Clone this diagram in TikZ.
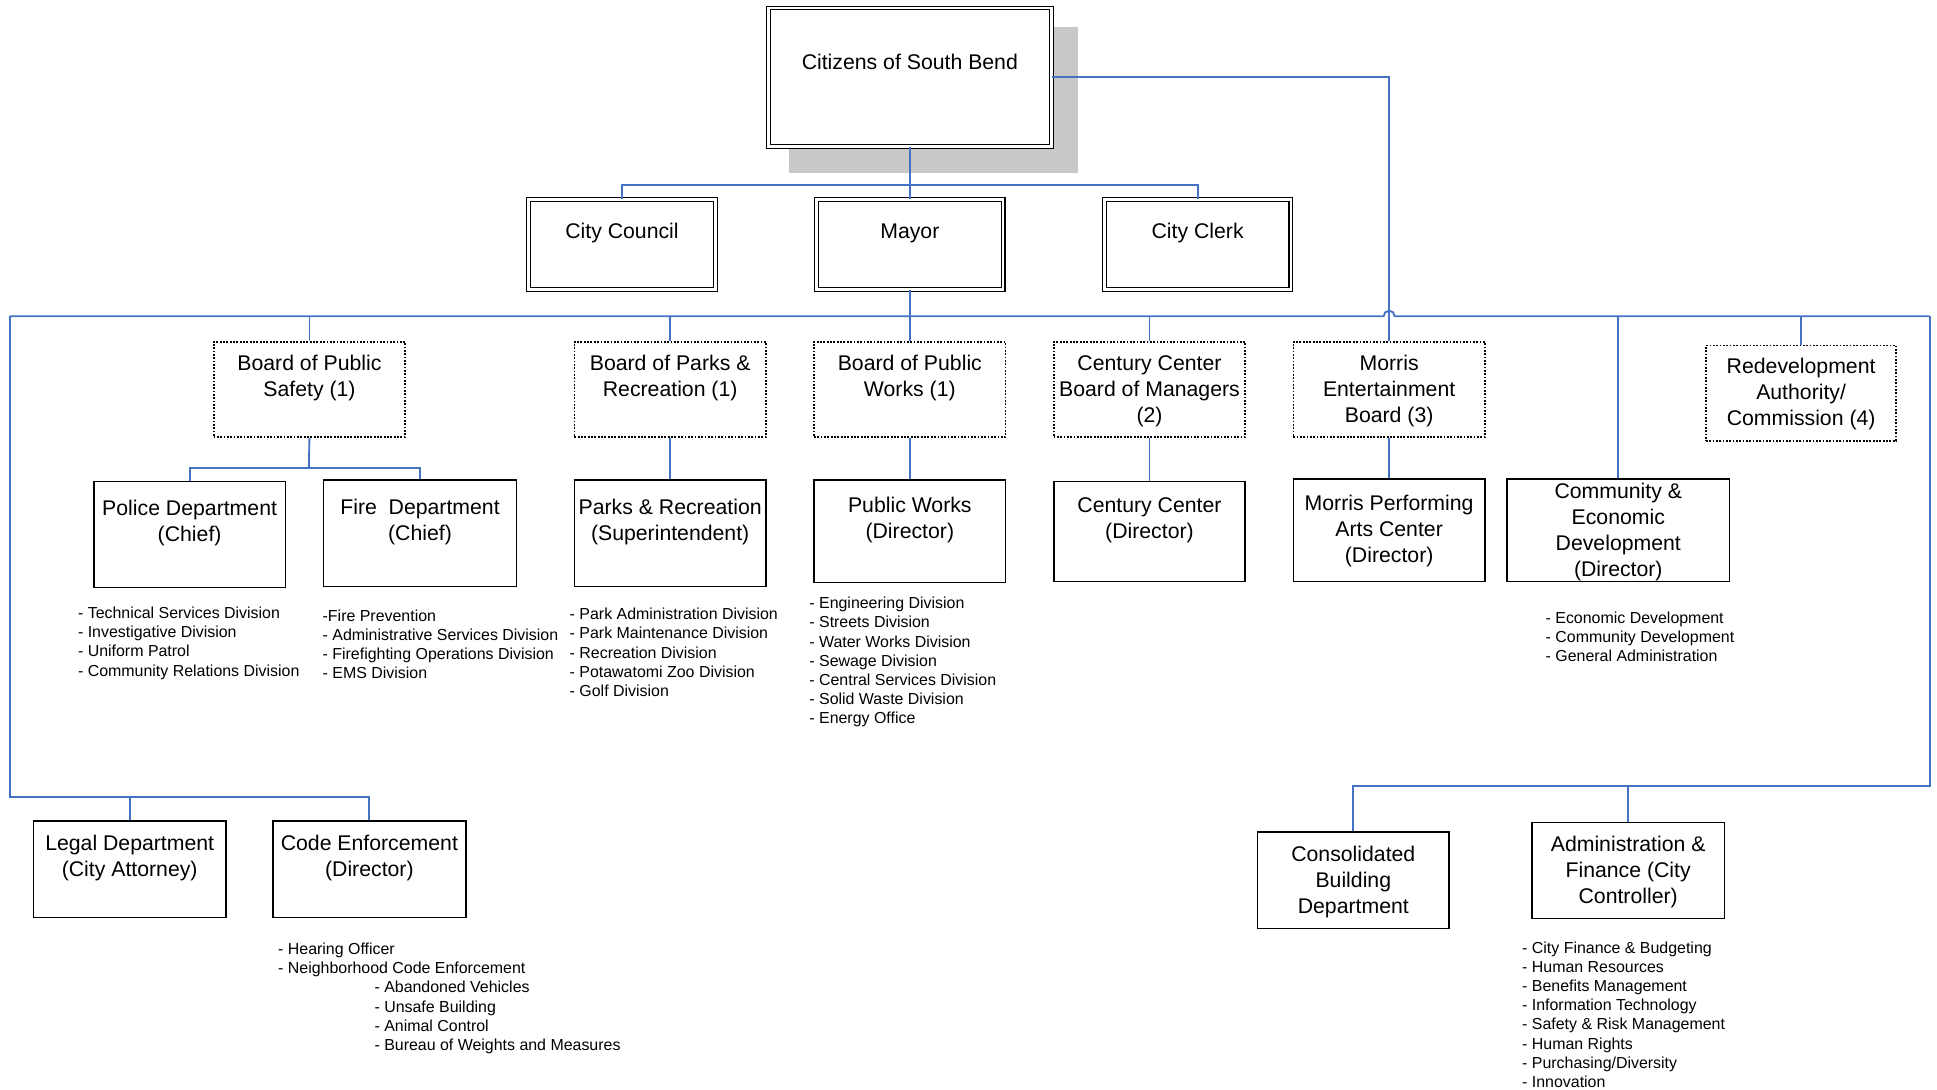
\documentclass[tikz,border=0pt]{standalone}
\usepackage{fontspec}
\setmainfont{Liberation Sans}
\usepackage{tikz}
\usetikzlibrary{positioning,calc}

\definecolor{lineblue}{RGB}{68,114,196}
\definecolor{shadowgray}{RGB}{200,200,200}

\newcommand{\boxfont}{\fontsize{17.2}{21}\selectfont}
\newcommand{\listfont}{\fontsize{12.9}{15.5}\selectfont}
% width, height, baseline of first line, text
\newcommand{\toptext}[4]{\parbox[c][#2pt][t]{#1pt}{\centering\rule{0pt}{#3pt}#4}}

\tikzset{
  link/.style={draw=lineblue, line width=1.5pt},
  dblbox/.style={draw, line width=1pt, double=white, double distance=2pt, inner sep=0pt, anchor=north, font=\boxfont},
  dotbox/.style={draw, line width=1.4pt, dash pattern=on 1.4pt off 1.3pt, inner sep=0pt, anchor=north, font=\boxfont},
  deptbox/.style={draw, line width=1.3pt, inner sep=0pt, anchor=north, font=\boxfont},
  divlist/.style={align=left, anchor=north west, inner sep=0pt, font=\listfont},
}

\begin{document}
\begin{tikzpicture}[x=1pt,y=-1pt]
    \useasboundingbox (0,0) rectangle (1568,882.3);

    % Shadow and top level
    \fill[shadowgray] (639,22) rectangle (873,140);
    \node[dblbox, fill=white] (cit) at (736.5,6) {\toptext{229}{112}{50}{Citizens of South Bend}};

    \node[dblbox] (council) at (503.5,161) {\toptext{151}{73}{31.5}{City Council}};
    \node[dblbox] (mayor)   at (736.5,161) {\toptext{151}{73}{31.5}{Mayor}};
    \node[dblbox] (clerk)   at (969.5,161) {\toptext{151}{73}{31.5}{City Clerk}};

    % Boards
    \node[dotbox] (bps) at (250.5,276)  {\toptext{155}{77}{23}{Board of Public\\Safety (1)}};
    \node[dotbox] (bpr) at (542.5,276)  {\toptext{155}{77}{23}{Board of Parks \&\\Recreation (1)}};
    \node[dotbox] (bpw) at (736.5,276)  {\toptext{155}{77}{23}{Board of Public\\Works (1)}};
    \node[dotbox] (ccb) at (930.5,276)  {\toptext{155}{77}{23}{Century Center\\Board of Managers\\(2)}};
    \node[dotbox] (meb) at (1124.5,276) {\toptext{155}{77}{23}{Morris\\Entertainment\\Board (3)}};
    \node[dotbox] (rda) at (1458,279)   {\toptext{154}{77}{23}{Redevelopment\\Authority/\\Commission (4)}};

    % Departments
    \node[deptbox] (police) at (153.5,389) {\toptext{155}{86}{28}{Police Department\\(Chief)}};
    \node[deptbox] (fire)   at (340,388)   {\toptext{156}{86}{28}{Fire\ \ Department\\(Chief)}};
    \node[deptbox] (parks)  at (542.5,388) {\toptext{155}{86}{28}{Parks \& Recreation\\(Superintendent)}};
    \node[deptbox] (pw)     at (736.5,388) {\toptext{155}{83}{26}{Public Works\\(Director)}};
    \node[deptbox] (cc)     at (930.5,389) {\toptext{155}{81}{25}{Century Center\\(Director)}};
    \node[deptbox] (mpac)   at (1124.5,387) {\toptext{155}{83}{26}{Morris Performing\\Arts Center\\(Director)}};
    \node[deptbox] (ced)    at (1310,387)  {\toptext{180}{83}{16}{Community \&\\Economic\\Development\\(Director)}};

    \node[deptbox] (legal) at (105,664)    {\toptext{156}{78}{24}{Legal Department\\(City Attorney)}};
    \node[deptbox] (code)  at (299,664)    {\toptext{156}{78}{24}{Code Enforcement\\(Director)}};
    \node[deptbox] (cbd)   at (1095.5,673) {\toptext{155}{78}{24}{Consolidated\\Building\\Department}};
    \node[deptbox] (afc)   at (1318,665)   {\toptext{156}{78}{24}{Administration \&\\Finance (City\\Controller)}};

    % Division lists
    \node[divlist] (police-l) at (63,491.2) {- Technical Services Division\\- Investigative Division\\- Uniform Patrol\\- Community Relations Division};
    \node[divlist] (fire-l) at (261,493.2) {-Fire Prevention\\- Administrative Services Division\\- Firefighting Operations Division\\- EMS Division};
    \node[divlist] (parks-l) at (461,492.2) {- Park Administration Division\\- Park Maintenance Division\\- Recreation Division\\- Potawatomi Zoo Division\\- Golf Division};
    \node[divlist] (pw-l) at (655,483.2) {- Engineering Division\\- Streets Division\\- Water Works Division\\- Sewage Division\\- Central Services Division\\- Solid Waste Division\\- Energy Office};
    \node[divlist] (ced-l) at (1251,495.2) {- Economic Development\\- Community Development\\- General Administration};
    \node[divlist] (code-l) at (225,763.2) {- Hearing Officer\\- Neighborhood Code Enforcement\\\hspace*{78pt}- Abandoned Vehicles\\\hspace*{78pt}- Unsafe Building\\\hspace*{78pt}- Animal Control\\\hspace*{78pt}- Bureau of Weights and Measures};
    \node[divlist] (afc-l) at (1232,762.2) {- City Finance \& Budgeting\\- Human Resources\\- Benefits Management\\- Information Technology\\- Safety \& Risk Management\\- Human Rights\\- Purchasing/Diversity\\- Innovation};

    % Connectors
    \coordinate (topj) at (736,150);
    \coordinate (busL) at (8,256);
    \coordinate (busR) at (1562,256);
    \coordinate (hopL) at (1120,256);
    \coordinate (psj) at (250,379);
    \coordinate (lbus) at (8,645);
    \coordinate (rbus) at (1562,636);

    \draw[link] (cit.south) -- (mayor.north);
    \draw[link] (council.north) |- (topj) -| (clerk.north);
    \draw[link] (cit.east) -| (meb.north);
    \draw[link] (mayor.south) -- (bpw.north);
    \draw[link] (busL) -- (hopL) arc[start angle=180, end angle=0, radius=4.5pt] -- (busR);
    \draw[link] (bps.north) -- (bps.north |- busL);
    \draw[link] (bpr.north) -- (bpr.north |- busL);
    \draw[link] (ccb.north) -- (ccb.north |- busL);
    \draw[link] (ced.north) -- (ced.north |- busL);
    \draw[link] (rda.north) -- (rda.north |- busL);

    \draw[link] (bps.south) -- (psj);
    \draw[link] (police.north) |- (psj) -| (fire.north);
    \draw[link] (bpr.south) -- (parks.north);
    \draw[link] (bpw.south) -- (pw.north);
    \draw[link] (ccb.south) -- (cc.north);
    \draw[link] (meb.south) -- (mpac.north);

    \draw[link] (busL) -- (lbus) -| (code.north);
    \draw[link] (legal.north) -- (legal.north |- lbus);
    \draw[link] (busR) -- (rbus) -| (cbd.north);
    \draw[link] (afc.north) -- (afc.north |- rbus);
\end{tikzpicture}
\end{document}
